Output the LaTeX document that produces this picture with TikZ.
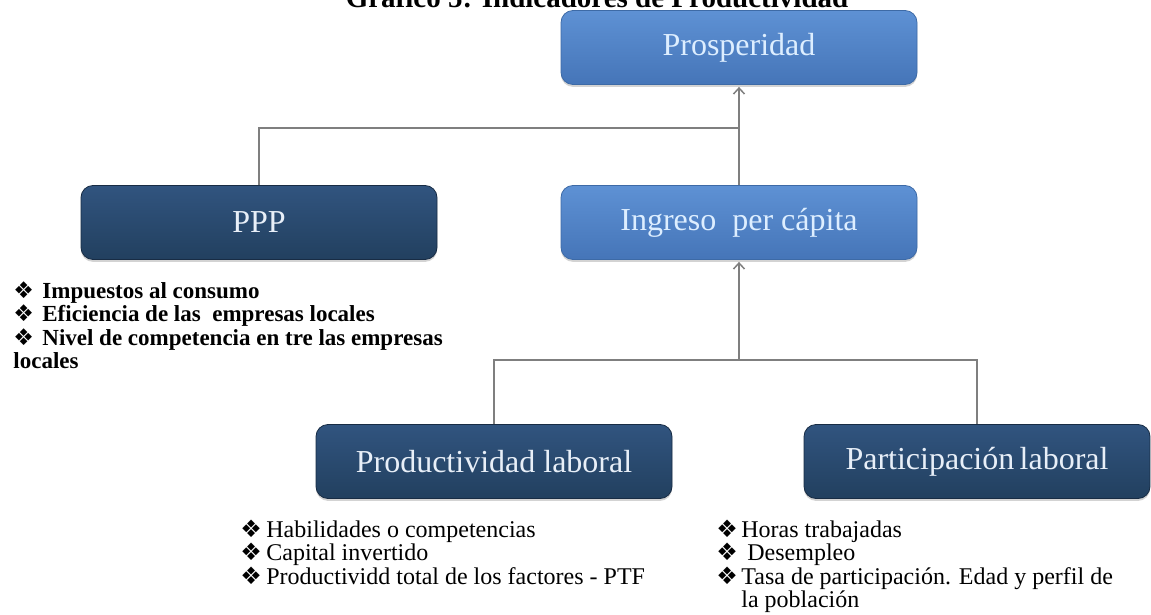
\documentclass[tikz,border=0pt]{standalone}
\usepackage{fontspec}
\setmainfont{Liberation Serif}
\newfontfamily\symfont{DejaVu Sans}
\usetikzlibrary{arrows.meta,shadows}

\definecolor{lighttop}{HTML}{5E91D4}
\definecolor{lightbot}{HTML}{4575B8}
\definecolor{lightedge}{HTML}{3D6AA6}
\definecolor{lighttext}{HTML}{DDEEFF}
\definecolor{darktop}{HTML}{31547F}
\definecolor{darkbot}{HTML}{22405F}
\definecolor{darkedge}{HTML}{182C44}
\definecolor{darktext}{HTML}{E8EFF8}
\definecolor{linegray}{HTML}{7F7F7F}

\tikzset{
    box/.style={rounded corners=6pt, minimum width=178pt, minimum height=37pt,
        inner sep=0pt, font=\fontsize{16}{18}\selectfont,
        drop shadow={shadow xshift=0pt, shadow yshift=-1.2pt, opacity=.35}},
    lightbox/.style={box, top color=lighttop, bottom color=lightbot, draw=lightedge, text=lighttext},
    darkbox/.style={box, top color=darktop, bottom color=darkbot, draw=darkedge, text=darktext},
    conn/.style={draw=linegray, line width=.75pt},
    title/.style={anchor=base, inner sep=0pt, font=\bfseries\fontsize{14.5}{17}\selectfont},
    pppitem/.style={anchor=base west, inner sep=0pt, font=\bfseries\fontsize{11.5}{13}\selectfont},
    item/.style={anchor=base west, inner sep=0pt, font=\fontsize{12}{14}\selectfont}
}
\newcommand\bul[1][14.5pt]{\makebox[#1][l]{\symfont\char"2756}}

\begin{document}
\begin{tikzpicture}[x=0.5pt, y=-0.5pt, >={Straight Barb[length=3pt,width=5.5pt]}]
\useasboundingbox (0,0) rectangle (1151,615);

\node[title] (ttl) at (597,8) {Gráfico 5: Indicadores de Productividad};

% boxes
\node[lightbox] (pros) at (739,47.5) {Prosperidad};
\node[darkbox] (ppp) at (259,222.5) {PPP};
\node[lightbox] (ing) at (739,222.5) {Ingreso~ per cápita};
\node[darkbox] (prod) at (494,461.5) {Productividad laboral};
\node[darkbox, minimum width=173pt] (part) at (977,461.5) {Participación\,laboral};

% connectors
\coordinate (jtop) at (739,128);
\coordinate (jbot) at (739,360);
\draw[conn,->,shorten >=1pt] (ing) -- (pros);
\draw[conn] (ppp.north) |- (jtop);
\draw[conn,->,shorten >=1pt] (jbot) -- (ing);
\draw[conn] (prod.north) |- (jbot) -| (part.north);

% lists
\foreach \txt [count=\i from 0] in {{\bul Impuestos al consumo},
    {\bul Eficiencia de las~ empresas locales},
    {\bul Nivel de competencia en tre las empresas},
    {locales}}
{
    \node[pppitem] (pppl-\i) at (13,{298+23.5*\i}) {\txt};
}
\foreach \txt [count=\i from 0] in {{\bul[13pt]Habilidades o competencias},
    {\bul[13pt]Capital invertido},
    {\bul[13pt]Productividd total de los factores - PTF}}
{
    \node[item] (prodl-\i) at (240,{537+23.5*\i}) {\txt};
}
\foreach \txt [count=\i from 0] in {{\bul[12.5pt]Horas trabajadas},
    {\bul[12.5pt]\ Desempleo},
    {\bul[12.5pt]Tasa de participación. Edad y perfil de},
    {\hspace*{12.5pt}la población}}
{
    \node[item] (partl-\i) at (716,{537+23.5*\i}) {\txt};
}
\end{tikzpicture}
\end{document}
